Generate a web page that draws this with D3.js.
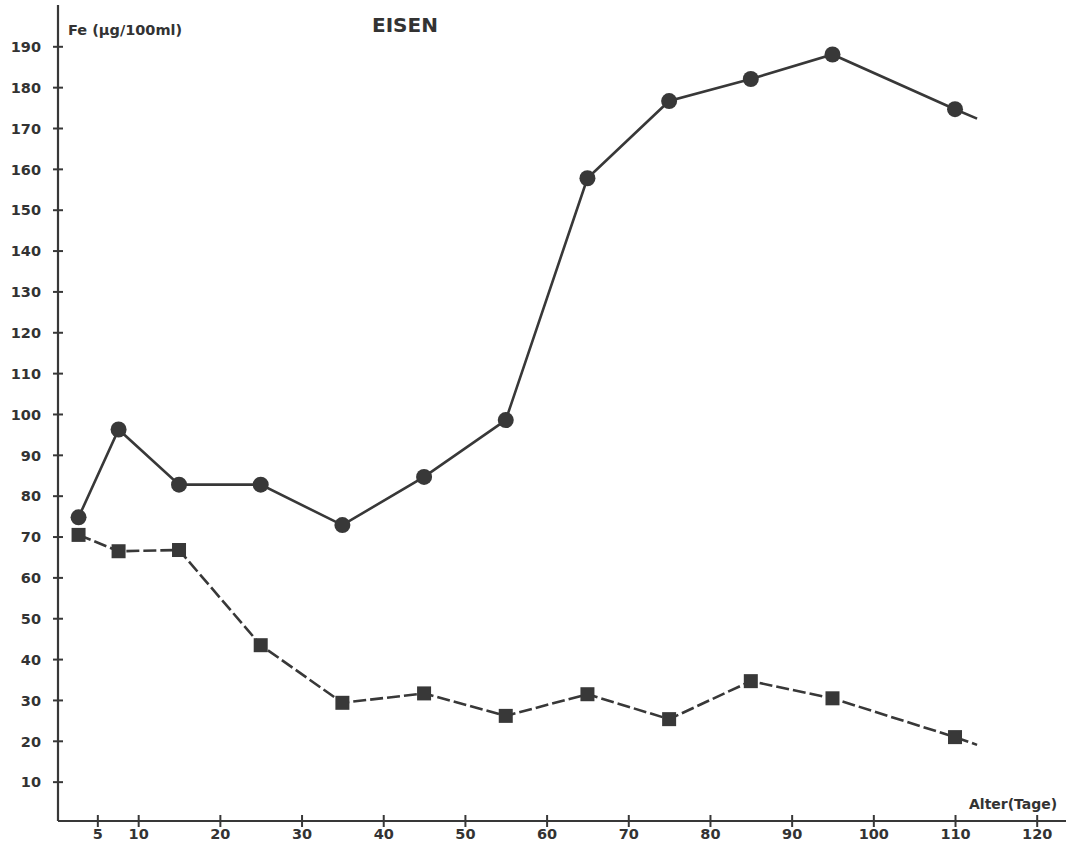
<!DOCTYPE html>
<html>
<head>
<meta charset="utf-8">
<script src="https://cdn.jsdelivr.net/npm/d3@7/dist/d3.min.js"></script>
<style>
  html, body { margin: 0; padding: 0; background: #ffffff; }
  svg { display: block; }
  text { font-family: "DejaVu Sans", sans-serif; font-weight: 700; fill: #333; }
</style>
</head>
<body>
<svg id="chart" width="1066" height="843"></svg>
<script>
// Age in days at each sampling point
const ageDays = [2.7, 7.6, 15, 25, 35, 45, 55, 65, 75, 85, 95, 110];
// Iron concentration, Fe (µg/100ml) – upper series (circles)
const ironCircles = [74.7, 96.2, 82.7, 82.7, 72.8, 84.6, 98.5, 157.7, 176.6, 182, 188, 174.6];
// Iron concentration – lower series (squares)
const ironSquares = [70.4, 66.4, 66.7, 43.4, 29.3, 31.6, 26.1, 31.4, 25.3, 34.6, 30.4, 20.9];
// Line continuation past the last measurement
const tailAge = 112.7;
const tailCircles = 172.3;
const tailSquares = 19.0;

const xTicks = [5, 10, 20, 30, 40, 50, 60, 70, 80, 90, 100, 110, 120];
const yTicks = [10, 20, 30, 40, 50, 60, 70, 80, 90, 100, 110, 120, 130, 140, 150, 160, 170, 180, 190];

const ink = "#383838";
const svg = d3.select("#chart");

const x = d3.scaleLinear().domain([0, 120]).range([56.5, 1036.7]);
const y = d3.scaleLinear().domain([0, 190]).range([822.5, 46.3]);

const axisX0 = 58;   // left axis line
const axisY0 = 821;  // bottom axis line

// Axis lines
svg.append("line").attr("x1", axisX0).attr("x2", axisX0).attr("y1", 5).attr("y2", axisY0)
  .attr("stroke", ink).attr("stroke-width", 2.2);
svg.append("line").attr("x1", axisX0).attr("x2", 1066).attr("y1", axisY0).attr("y2", axisY0)
  .attr("stroke", ink).attr("stroke-width", 2.2);

// Y ticks (crossing marks) and labels
const yAxis = d3.axisLeft(y).tickValues(yTicks).tickSize(0).tickPadding(0);
const gy = svg.append("g").attr("transform", `translate(${axisX0},0)`).call(yAxis);
gy.select(".domain").remove();
gy.selectAll(".tick").append("line").attr("x1", -5).attr("x2", 5)
  .attr("stroke", ink).attr("stroke-width", 2);
gy.selectAll(".tick text").attr("x", -17).attr("dy", "0.36em")
  .style("font-size", "14.5px").style("font-weight", 700).style("font-family", '"DejaVu Sans", sans-serif')
  .attr("fill", "#333");

// X ticks and labels
const xAxis = d3.axisBottom(x).tickValues(xTicks).tickSize(0).tickPadding(0);
const gx = svg.append("g").attr("transform", `translate(0,${axisY0})`).call(xAxis);
gx.select(".domain").remove();
gx.selectAll(".tick").append("line").attr("y1", -6).attr("y2", 6)
  .attr("stroke", ink).attr("stroke-width", 2);
gx.selectAll(".tick text").attr("y", 18).attr("dy", 0)
  .style("font-size", "14.5px").style("font-weight", 700).style("font-family", '"DejaVu Sans", sans-serif')
  .attr("fill", "#333");

// Titles
svg.append("text").attr("x", 68).attr("y", 35).text("Fe (µg/100ml)")
  .style("font-size", "14.5px");
svg.append("text").attr("x", 372).attr("y", 32).text("EISEN")
  .style("font-size", "20px");
svg.append("text").attr("x", 969).attr("y", 809).text("Alter(Tage)")
  .style("font-size", "14px");

const line = d3.line().x(d => x(d[0])).y(d => y(d[1]));

const circlePts = ageDays.map((a, i) => [a, ironCircles[i]]).concat([[tailAge, tailCircles]]);
const squarePts = ageDays.map((a, i) => [a, ironSquares[i]]).concat([[tailAge, tailSquares]]);

svg.append("path").attr("d", line(circlePts)).attr("fill", "none")
  .attr("stroke", ink).attr("stroke-width", 2.6);
svg.append("path").attr("d", line(squarePts)).attr("fill", "none")
  .attr("stroke", ink).attr("stroke-width", 2.6).attr("stroke-dasharray", "13,4");

svg.append("g").selectAll("circle").data(ageDays).join("circle")
  .attr("cx", d => x(d)).attr("cy", (d, i) => y(ironCircles[i])).attr("r", 8)
  .attr("fill", ink);

const sq = 14;
svg.append("g").selectAll("rect").data(ageDays).join("rect")
  .attr("x", d => x(d) - sq / 2).attr("y", (d, i) => y(ironSquares[i]) - sq / 2)
  .attr("width", sq).attr("height", sq).attr("fill", ink);
</script>
</body>
</html>
